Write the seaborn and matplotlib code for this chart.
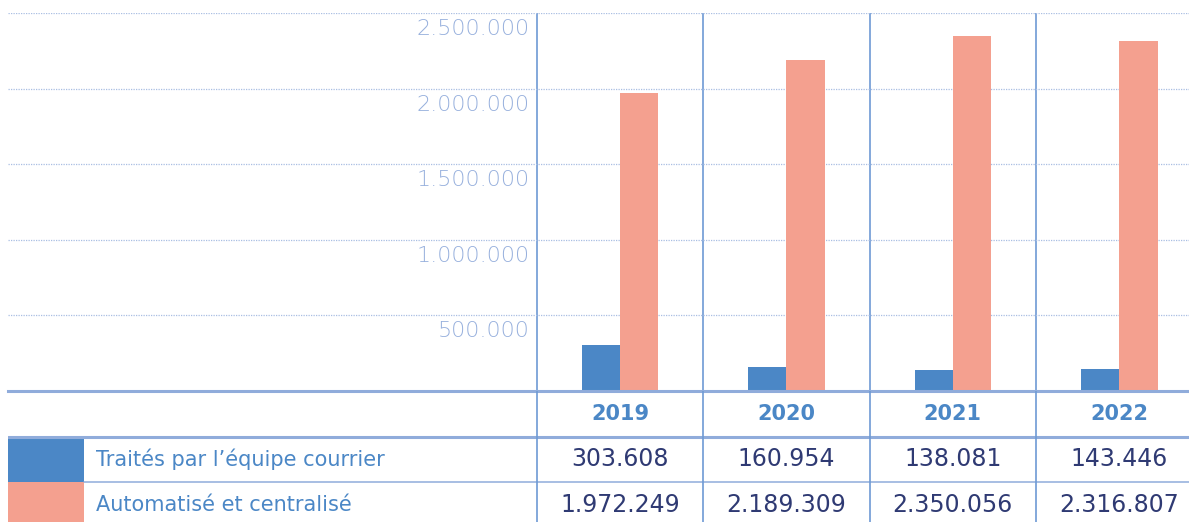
import matplotlib
matplotlib.use("Agg")
from matplotlib import pyplot as plt
from matplotlib.patches import Rectangle
import pandas as pd
import seaborn as sns

years = ["2019", "2020", "2021", "2022"]
equipe = [303608, 160954, 138081, 143446]
auto = [1972249, 2189309, 2350056, 2316807]
series = ["Traités par l’équipe courrier", "Automatisé et centralisé"]
y_ticks = [500000, 1000000, 1500000, 2000000, 2500000]

BLUE = "#4b87c6"
SALMON = "#f4a08f"
LINE = "#90acdb"
VLINE = "#6e9ad4"
TICK_TXT = "#97b0dd"
NUM_TXT = "#2f3a73"


def fmt(v: int) -> str:
    return f"{v:,}".replace(",", ".")


df = pd.DataFrame(
    {
        "Année": years * 2,
        "Série": [series[0]] * len(years) + [series[1]] * len(years),
        "Valeur": equipe + auto,
    }
)

sns.set_style("white")
plt.rcParams["font.family"] = ["DejaVu Sans"]

W, H = 1189, 522
fig = plt.figure(figsize=(W / 100, H / 100), dpi=100)

left_px, right_px = 8, 1189
top_px, base_px = 13, 391
col_px = 166.5
x_left = -0.5 - (537 - left_px) / col_px
x_right = 3.5 - (1036 + col_px - right_px) / col_px

ax = fig.add_axes(
    [left_px / W, (H - base_px) / H, (right_px - left_px) / W, (base_px - top_px) / H]
)
sns.barplot(
    data=df,
    x="Année",
    y="Valeur",
    hue="Série",
    palette=[BLUE, SALMON],
    width=0.46,
    saturation=1,
    linewidth=0,
    legend=False,
    ax=ax,
)
ax.set_xlim(x_left, x_right)
ax.set_ylim(0, 2500000)
ax.set_yticks(y_ticks)
ax.set_yticklabels([])
ax.set_xticks([])
ax.set_xlabel("")
ax.set_ylabel("")
ax.tick_params(left=False, bottom=False)
ax.yaxis.grid(True, linestyle=(0, (1, 1)), color="#a9bee3", linewidth=0.9)
ax.set_axisbelow(True)
for s in ["top", "left", "right"]:
    ax.spines[s].set_visible(False)
ax.spines["bottom"].set_color(LINE)
ax.spines["bottom"].set_linewidth(2.2)

for t in y_ticks:
    ax.annotate(
        fmt(t),
        xy=(-0.5, t),
        xytext=(-7, -16),
        textcoords="offset pixels",
        ha="right",
        va="center",
        fontsize=16,
        color=TICK_TXT,
        fontweight="light",
    )

for i in range(len(years)):
    ax.axvline(i - 0.5, color=VLINE, linewidth=1.2, zorder=0)

# table below the chart
row_px = 45.5
tab = fig.add_axes([left_px / W, 0, (right_px - left_px) / W, (H - base_px) / H])
tab.set_xlim(x_left, x_right)
tab.set_ylim((H - base_px) / row_px, 0)
tab.axis("off")

sw = 76 / col_px
tab.add_patch(Rectangle((x_left, 1), sw, 1, color=BLUE, lw=0))
tab.add_patch(Rectangle((x_left, 2), sw, 2, color=SALMON, lw=0))
tab.axhline(1, color=LINE, linewidth=2.2)
tab.plot([x_left + sw, x_right], [2, 2], color=LINE, linewidth=1.1)
for i in range(len(years)):
    tab.axvline(i - 0.5, color=VLINE, linewidth=1.2)

for i, y in enumerate(years):
    tab.text(i, 0.5, y, ha="center", va="center", fontsize=15,
             fontweight="bold", color=BLUE)
    tab.text(i, 1.5, fmt(equipe[i]), ha="center", va="center", fontsize=17,
             color=NUM_TXT)
    tab.text(i, 2.5, fmt(auto[i]), ha="center", va="center", fontsize=17,
             color=NUM_TXT)

lab_x = x_left + 88 / col_px
tab.text(lab_x, 1.5, series[0], ha="left", va="center", fontsize=15, color=BLUE)
tab.text(lab_x, 2.5, series[1], ha="left", va="center", fontsize=15, color=BLUE)

fig.savefig("out.png", dpi=100)
